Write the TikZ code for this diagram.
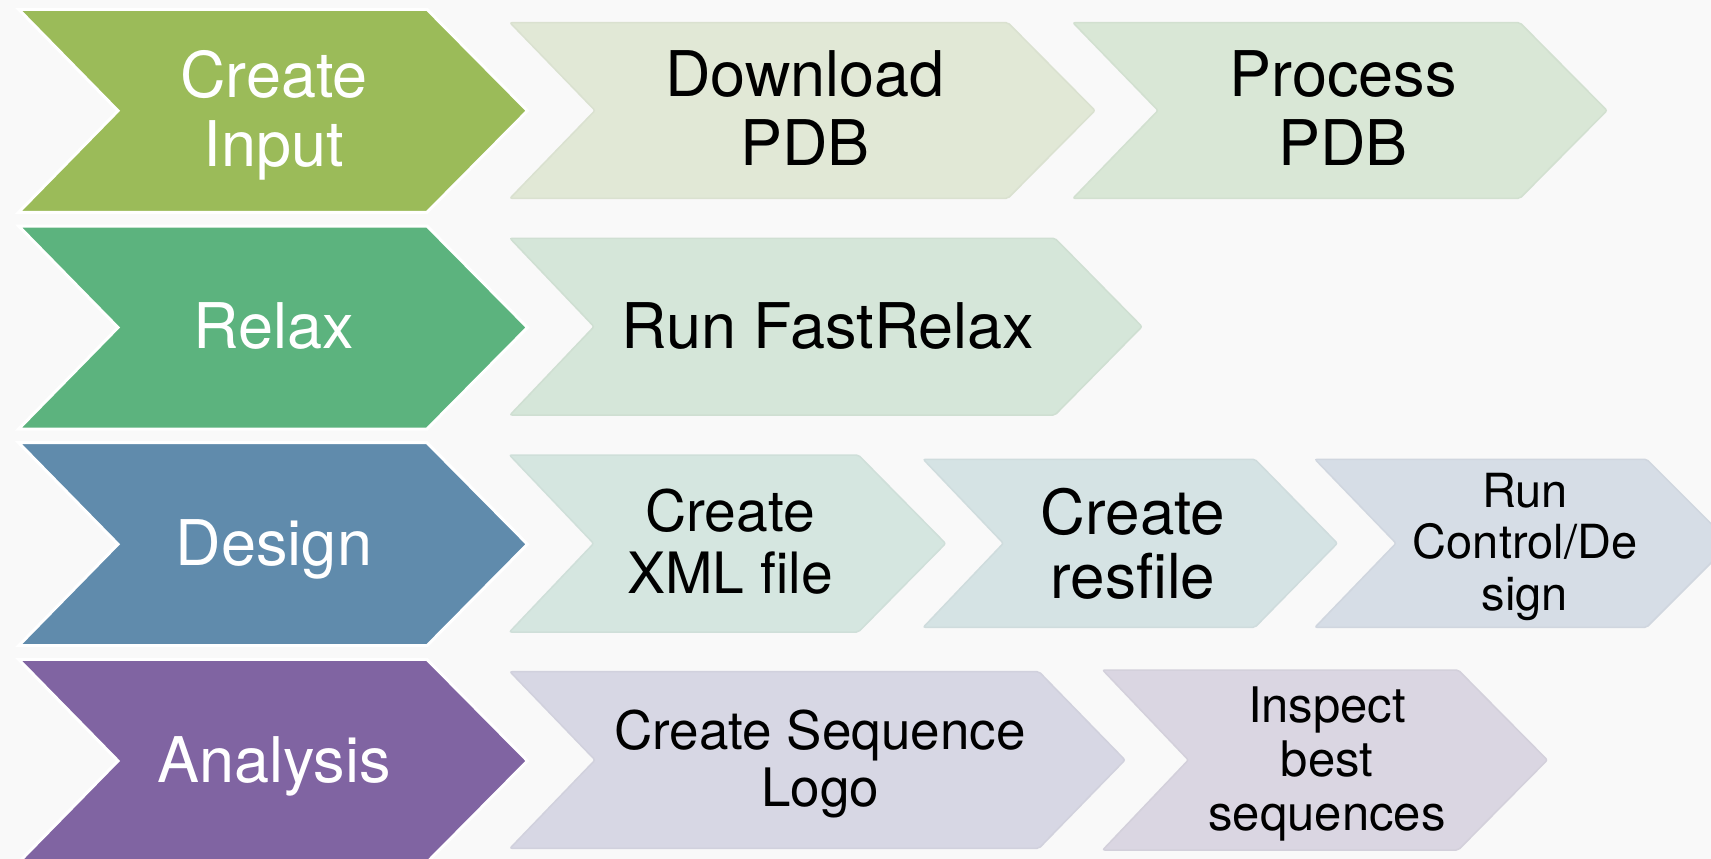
\documentclass[tikz,border=0pt]{standalone}
\usepackage{fontspec}
\setmainfont{TeX Gyre Heros}
\definecolor{bgcol}{RGB}{249,249,249}
\definecolor{cInput}{RGB}{155,187,89}
\definecolor{cRelax}{RGB}{92,179,126}
\definecolor{cDesign}{RGB}{96,139,172}
\definecolor{cAnalysis}{RGB}{128,100,162}
\definecolor{sDownload}{RGB}{225,232,214}
\definecolor{sProcess}{RGB}{217,231,214}
\definecolor{sFast}{RGB}{213,230,217}
\definecolor{sXML}{RGB}{213,230,224}
\definecolor{sRes}{RGB}{213,227,228}
\definecolor{sCtrl}{RGB}{214,221,230}
\definecolor{sLogo}{RGB}{215,215,228}
\definecolor{sInsp}{RGB}{218,214,226}
\newcommand\chevshape[7]{%
  \path[#7] (#1,#5) -- (#3,#5) -- (#4,{(#5+#6)/2}) -- (#3,#6) -- (#1,#6) -- (#2,{(#5+#6)/2}) -- cycle;}
\begin{document}
\begin{tikzpicture}[x=1pt,y=-1pt,
  mainchev/.style={fill=#1, draw=white, line width=3pt, line join=miter},
  subchev/.style={fill=#1, draw=#1!97!black, line width=1.5pt, rounded corners=2pt},
  mainlbl/.style={font=\fontsize{63}{69}\selectfont, text=white, align=center, anchor=base, inner sep=0pt},
  sublbl/.style n args={2}{font=\fontsize{#1}{#2}\selectfont, text=black, align=center, anchor=base, inner sep=0pt}]
\useasboundingbox (0,0) rectangle (1711,859);
\fill[bgcol] (0,0) rectangle (1711,859);

% main chevrons
\chevshape{18.6}{118}{427}{527.5}{9.3}{212.3}{mainchev=cInput}
\chevshape{18.6}{118}{427}{527.5}{226}{429}{mainchev=cRelax}
\chevshape{18.6}{118}{427}{527.5}{442.7}{645.7}{mainchev=cDesign}
\chevshape{18.6}{118}{427}{527.5}{659.4}{862.4}{mainchev=cAnalysis}

% row 1
\chevshape{510}{595}{1008}{1095}{22.7}{198.3}{subchev=sDownload}
\chevshape{1073}{1158}{1520}{1607}{22.7}{198.3}{subchev=sProcess}
% row 2
\chevshape{510}{594}{1055}{1142}{238.3}{415}{subchev=sFast}
% row 3
\chevshape{509.5}{593.6}{858.4}{945.6}{455}{632}{subchev=sXML}
\chevshape{923.3}{1003.3}{1255}{1337.3}{459.3}{627.3}{subchev=sRes}
\chevshape{1315}{1396}{1646.7}{1730.7}{459.3}{627.3}{subchev=sCtrl}
% row 4
\chevshape{510}{595}{1039}{1125}{671.7}{848.3}{subchev=sLogo}
\chevshape{1102.7}{1188.3}{1458.3}{1547.3}{670}{850}{subchev=sInsp}

% labels (anchored at the baseline of the last line)
\node[mainlbl] (ci) at (274,166) {Create\\Input};
\node[mainlbl] (rl) at (274,348.8) {Relax};
\node[mainlbl] (ds) at (274,565) {Design};
\node[mainlbl] (an) at (274,782) {Analysis};

\node[sublbl={63}{69}] (dl) at (805,165) {Download\\PDB};
\node[sublbl={63}{69}] (pp) at (1343,165) {Process\\PDB};
\node[sublbl={63}{69}] (fr) at (828,348.3) {Run FastRelax};
\node[sublbl={57}{62}] (xml) at (730,593) {Create\\XML file};
\node[sublbl={62}{64}] (res) at (1133,598) {Create\\resfile};
\node[sublbl={47}{51.5}] (rc) at (1525,610) {Run\\Control/De\\sign};
\node[sublbl={53}{57}] (sl) at (820,806.7) {Create Sequence\\Logo};
\node[sublbl={49}{54}] (ins) at (1327,830) {Inspect\\best\\sequences};
\end{tikzpicture}
\end{document}
